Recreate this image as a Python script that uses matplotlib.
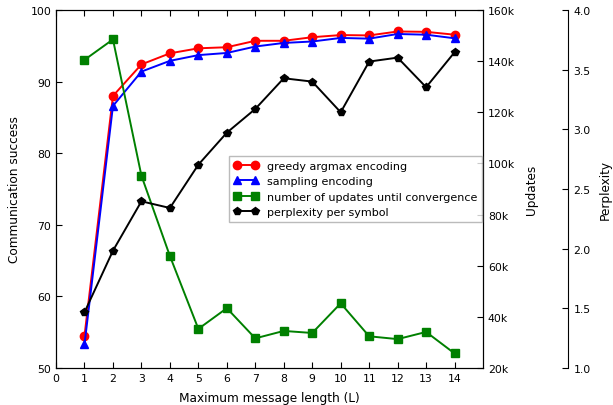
import matplotlib
matplotlib.use("Agg")
import matplotlib.pyplot as plt
from matplotlib.ticker import FuncFormatter

lengths = [1, 2, 3, 4, 5, 6, 7, 8, 9, 10, 11, 12, 13, 14]
greedy = [54.5, 88.0, 92.4, 93.95, 94.65, 94.8, 95.7, 95.7, 96.2, 96.5, 96.45, 97.0, 96.95, 96.55]
sampling = [53.3, 86.6, 91.4, 92.9, 93.7, 94.0, 94.9, 95.4, 95.6, 96.1, 96.0, 96.65, 96.55, 96.05]
updates_k = [140.5, 148.5, 95.2, 63.8, 35.3, 43.4, 31.6, 34.5, 33.7, 45.3, 32.4, 31.3, 34.1, 25.7]
perplexity = [1.467, 1.983, 2.397, 2.341, 2.704, 2.972, 3.171, 3.428, 3.40, 3.143, 3.568, 3.601, 3.353, 3.646]
x_ticks = list(range(0, 15))

plt.rcParams['font.family'] = ['DejaVu Sans']
plt.rcParams['xtick.direction'] = 'in'
plt.rcParams['ytick.direction'] = 'in'
plt.rcParams['font.size'] = 7.8

fig = plt.figure(figsize=(6.13, 4.06), dpi=100)
ax = fig.add_axes([0.0914, 0.0911, 0.6966, 0.8818])
par1 = ax.twinx()
par2 = ax.twinx()
par2.spines['right'].set_position(('axes', 1.2))
for s in ['top', 'left', 'bottom']:
    par2.spines[s].set_visible(False)

lw = 1.4
ms = 6
l1, = ax.plot(lengths, greedy, color='red', marker='o', lw=lw, ms=ms, mec='red', label='greedy argmax encoding')
l2, = ax.plot(lengths, sampling, color='blue', marker='^', lw=lw, ms=ms, mec='blue', label='sampling encoding')
l3, = par1.plot(lengths, updates_k, color='green', marker='s', lw=lw, ms=ms, mec='green', label='number of updates until convergence')
l4, = par2.plot(lengths, perplexity, color='black', marker='p', lw=lw, ms=ms, mec='black', label='perplexity per symbol')

ax.set_xlim(0, 15)
ax.set_xticks(x_ticks)
ax.set_ylim(50, 100)
ax.set_yticks([50, 60, 70, 80, 90, 100])
par1.set_ylim(20, 160)
par1.set_yticks([20, 40, 60, 80, 100, 120, 140, 160])
par1.yaxis.set_major_formatter(FuncFormatter(lambda v, p: f"{int(v)}k"))
par2.set_ylim(1.0, 4.0)
par2.set_yticks([1.0, 1.5, 2.0, 2.5, 3.0, 3.5, 4.0])
par2.yaxis.set_major_formatter(FuncFormatter(lambda v, p: f"{v:.1f}"))

ax.tick_params(axis='x', top=True, length=4)
ax.tick_params(axis='y', length=4)
par1.tick_params(axis='y', length=4)
par2.tick_params(axis='y', length=4)

ax.set_xlabel('Maximum message length (L)', fontsize=8.7, labelpad=6)
ax.set_ylabel('Communication success', fontsize=8.7, labelpad=7)
par1.set_ylabel('Updates', fontsize=8.7, labelpad=7)
par2.set_ylabel('Perplexity', fontsize=8.7, labelpad=6)

leg = par2.legend(handles=[l1, l2, l3, l4], loc='center left', bbox_to_anchor=(0.405, 0.5),
                  numpoints=2, fancybox=False, fontsize=8, handlelength=2.2,
                  borderaxespad=0.0)
leg.get_frame().set_edgecolor('#aaaaaa')

fig.savefig('out.png', dpi=100)
